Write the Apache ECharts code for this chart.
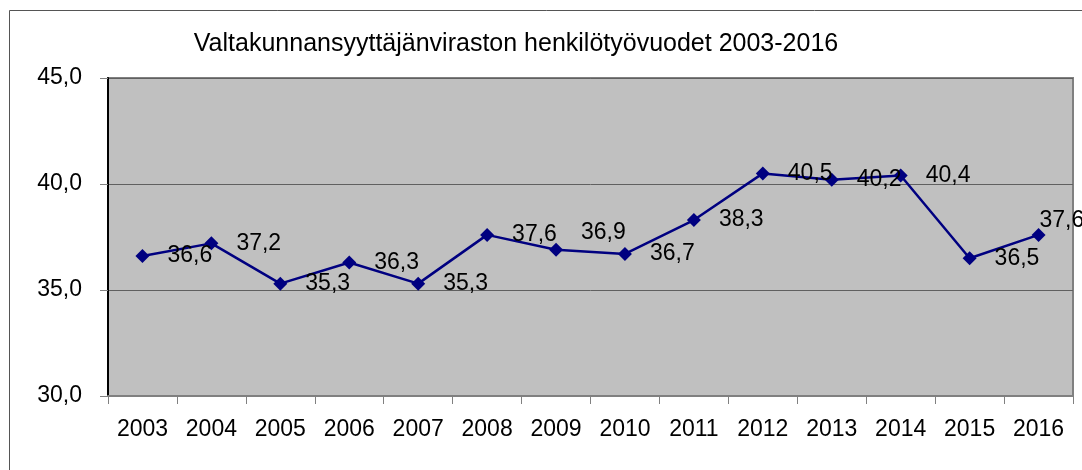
<!DOCTYPE html>
<html>
<head>
<meta charset="utf-8">
<script src="https://cdn.jsdelivr.net/npm/echarts@6/dist/echarts.min.js"></script>
<style>
  html, body { margin: 0; padding: 0; background: #fff; }
  #main { width: 1082px; height: 470px; }
</style>
</head>
<body>
<div id="main"></div>
<script>
// vuodet ja henkilötyövuodet
var years = ['2003', '2004', '2005', '2006', '2007', '2008', '2009', '2010', '2011', '2012', '2013', '2014', '2015', '2016'];
var htv = [36.6, 37.2, 35.3, 36.3, 35.3, 37.6, 36.9, 36.7, 38.3, 40.5, 40.2, 40.4, 36.5, 37.6];
var yTicks = [30, 35, 40, 45];

// muutama arvo on siirretty eri kohtaan kuten alkuperäisessä
var labelNudge = { '2009': [0, -17], '2016': [-24, -14] };

var font = '"Liberation Sans", Arial, sans-serif';
var fmt = function (v) { return Number(v).toFixed(1).replace('.', ','); };

var points = htv.map(function (v, i) {
    var item = { value: v };
    var n = labelNudge[years[i]];
    if (n) item.label = { offset: n };
    return item;
});

var myChart = echarts.init(document.getElementById('main'));
myChart.setOption({
    animation: false,
    backgroundColor: '#ffffff',
    title: {
        text: 'Valtakunnansyyttäjänviraston henkilötyövuodet 2003-2016',
        left: 511,
        textAlign: 'center',
        top: 27,
        textStyle: { fontFamily: font, fontSize: 25, fontWeight: 'normal', color: '#000' }
    },
    graphic: [{
        type: 'rect',
        shape: { x: 9.5, y: 10.5, width: 1200, height: 600 },
        style: { fill: 'none', stroke: '#555', lineWidth: 1 },
        silent: true
    }],
    grid: {
        left: 108, right: 9, top: 78, bottom: 74,
        show: true,
        backgroundColor: '#C0C0C0',
        borderColor: '#808080',
        borderWidth: 2
    },
    xAxis: {
        type: 'category',
        data: years,
        boundaryGap: true,
        axisLine: { lineStyle: { color: '#808080', width: 2 } },
        axisTick: { show: true, length: 8, lineStyle: { color: '#808080' } },
        axisLabel: { fontFamily: font, fontSize: 23, color: '#000', margin: 22, interval: 0 }
    },
    yAxis: {
        type: 'value',
        min: yTicks[0],
        max: yTicks[yTicks.length - 1],
        interval: 5,
        axisLine: { show: true, lineStyle: { color: '#000', width: 2 } },
        axisTick: { show: true, length: 8, lineStyle: { color: '#808080' } },
        axisLabel: { fontFamily: font, fontSize: 23, color: '#000', margin: 26, formatter: fmt },
        splitLine: { show: true, lineStyle: { color: '#606060', width: 1 } }
    },
    series: [{
        type: 'line',
        data: points,
        symbol: 'diamond',
        symbolSize: 14,
        itemStyle: { color: '#000080' },
        lineStyle: { color: '#000080', width: 2.5 },
        label: {
            show: true,
            position: 'right',
            distance: 18,
            fontFamily: font,
            fontSize: 23,
            color: '#000',
            formatter: function (p) { return fmt(p.value); }
        }
    }]
});
</script>
</body>
</html>
